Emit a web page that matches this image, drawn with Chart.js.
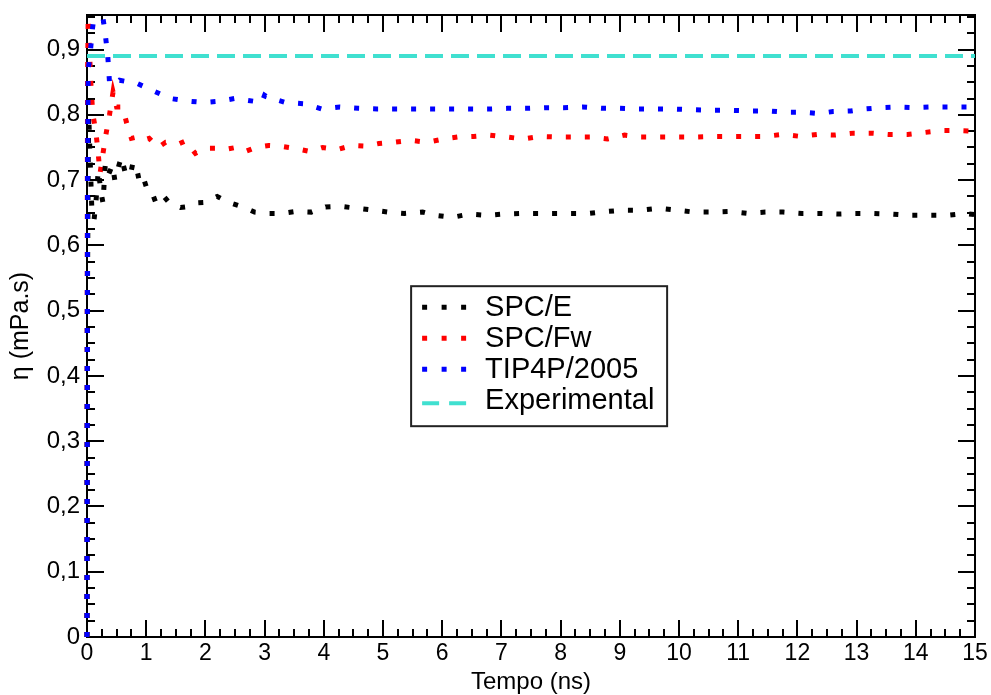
<!DOCTYPE html>
<html>
<head>
<meta charset="utf-8">
<script src="https://cdn.jsdelivr.net/npm/chart.js@4.4.1/dist/chart.umd.min.js"></script>
<style>
html,body{margin:0;padding:0;background:#fff;}
#wrap{width:991px;height:695px;position:relative;}
</style>
</head>
<body>
<div id="wrap"><canvas id="c" width="991" height="695"></canvas></div>
<script>
// ---- Data ----
const seriesLabels = ['SPC/E', 'SPC/Fw', 'TIP4P/2005', 'Experimental'];

const spceTime = [0,0.003,0.006,0.01,0.015,0.02,0.03,0.05,0.08,0.12,0.15,0.19,0.24,0.27,0.31,0.37,0.43,0.47,0.53,0.58,0.65,0.73,0.77,0.82,0.88,0.94,1.0,1.07,1.16,1.28,1.39,1.58,1.66,1.82,2.0,2.2,2.39,2.63,2.83,3.08,3.3,3.52,3.79,4.03,4.27,4.55,4.84,5.08,5.36,5.67,5.89,6.17,6.46,6.77,7.04,7.32,7.61,7.91,8.2,8.47,8.78,9.06,9.35,9.65,9.96,10.25,10.55,10.85,11.15,11.46,11.76,12.08,12.37,12.67,12.97,13.28,13.6,13.92,14.21,14.53,14.84,15];
const spceEta  = [0,0.30,0.47,0.56,0.64,0.72,0.80,0.74,0.66,0.64,0.665,0.715,0.68,0.665,0.726,0.71,0.723,0.70,0.72,0.735,0.71,0.707,0.724,0.726,0.70,0.707,0.69,0.688,0.666,0.677,0.665,0.658,0.659,0.665,0.666,0.675,0.666,0.659,0.651,0.649,0.649,0.652,0.651,0.659,0.660,0.657,0.654,0.651,0.649,0.651,0.646,0.643,0.648,0.646,0.648,0.649,0.649,0.649,0.649,0.649,0.652,0.654,0.654,0.657,0.654,0.651,0.651,0.652,0.649,0.651,0.651,0.649,0.649,0.648,0.649,0.649,0.648,0.646,0.646,0.646,0.649,0.647];

const spcfwTime = [0,0.003,0.006,0.01,0.02,0.04,0.07,0.10,0.14,0.18,0.22,0.26,0.32,0.38,0.44,0.50,0.60,0.68,0.75,0.85,0.95,1.05,1.2,1.33,1.45,1.56,1.66,1.83,2.0,2.17,2.34,2.51,2.68,2.85,3.07,3.27,3.49,3.76,3.98,4.23,4.47,4.7,4.93,5.19,5.46,5.75,6.02,6.26,6.53,6.8,7.1,7.37,7.66,7.94,8.22,8.5,8.79,9.08,9.35,9.67,9.96,10.24,10.57,10.84,11.14,11.45,11.75,12.05,12.34,12.64,12.95,13.25,13.54,13.86,14.15,14.45,14.74,15];
const spcfwEta  = [0,0.45,0.72,0.86,0.95,0.90,0.84,0.80,0.78,0.75,0.71,0.735,0.77,0.80,0.835,0.812,0.812,0.784,0.764,0.766,0.761,0.764,0.750,0.758,0.758,0.756,0.760,0.741,0.749,0.749,0.747,0.750,0.744,0.750,0.753,0.752,0.749,0.744,0.750,0.747,0.753,0.752,0.756,0.758,0.761,0.758,0.763,0.766,0.767,0.769,0.766,0.763,0.767,0.766,0.766,0.766,0.763,0.769,0.766,0.766,0.766,0.766,0.767,0.767,0.767,0.767,0.770,0.767,0.770,0.769,0.772,0.772,0.770,0.770,0.773,0.776,0.776,0.775];

const tip4pTime = [0,0.005,0.01,0.02,0.05,0.09,0.13,0.17,0.21,0.25,0.30,0.35,0.38,0.45,0.55,0.85,1.14,1.41,1.72,1.98,2.24,2.49,2.81,2.95,3.0,3.05,3.35,3.67,3.96,4.27,4.58,4.9,5.23,5.53,5.85,6.17,6.5,6.8,7.1,7.45,7.75,8.05,8.37,8.7,9.0,9.3,9.6,9.9,10.2,10.55,10.87,11.2,11.5,11.8,12.1,12.35,12.6,12.9,13.13,13.4,13.66,13.95,14.25,14.6,14.9,15];
const tip4pEta  = [0,0.45,0.72,0.87,0.89,0.93,0.96,0.98,0.98,0.96,0.93,0.891,0.85,0.845,0.853,0.848,0.836,0.825,0.821,0.819,0.821,0.825,0.821,0.818,0.830,0.827,0.819,0.817,0.809,0.812,0.810,0.809,0.809,0.809,0.809,0.809,0.809,0.809,0.810,0.810,0.811,0.811,0.812,0.810,0.810,0.809,0.809,0.809,0.808,0.807,0.807,0.806,0.806,0.804,0.804,0.802,0.805,0.806,0.809,0.811,0.812,0.811,0.812,0.812,0.812,0.812];

const expTime = [0, 15];
const expEta  = [0.89, 0.89];

const xTickValues = [0,1,2,3,4,5,6,7,8,9,10,11,12,13,14,15];
const yTickLabels = ['0','0,1','0,2','0,3','0,4','0,5','0,6','0,7','0,8','0,9'];

// ---- helpers ----
function pts(t, v){ return t.map((x,i)=>({x:x, y:v[i]})); }
const FONT = "'Liberation Sans', Arial, Helvetica, sans-serif";

const frameTicks = {
  id: 'frameTicks',
  beforeDatasetsDraw(chart){
    const {ctx, chartArea:a, scales:{x, y}} = chart;
    ctx.save();
    ctx.strokeStyle = '#000';
    ctx.lineWidth = 2;
    ctx.lineCap = 'butt';
    for (let v = 0; v <= 15.0001; v += 0.25) {
      const px = Math.round(x.getPixelForValue(v));
      const major = Math.abs(v - Math.round(v)) < 1e-6;
      const L = major ? 17 : 8;
      ctx.beginPath();
      ctx.moveTo(px, a.bottom); ctx.lineTo(px, a.bottom - L);
      ctx.moveTo(px, a.top); ctx.lineTo(px, a.top + L);
      ctx.stroke();
    }
    for (let k = 0; k <= 38; k++) {
      const v = k * 0.025;
      const py = Math.round(y.getPixelForValue(v));
      const L = (k % 4 === 0) ? 17 : 8;
      ctx.beginPath();
      ctx.moveTo(a.left, py); ctx.lineTo(a.left + L, py);
      ctx.moveTo(a.right, py); ctx.lineTo(a.right - L, py);
      ctx.stroke();
    }
    ctx.strokeRect(a.left, a.top, a.right - a.left, a.bottom - a.top);
    ctx.restore();
  }
};

const boxLegend = {
  id: 'boxLegend',
  afterDraw(chart){
    const {ctx, chartArea:a} = chart;
    const w = a.right - a.left, h = a.bottom - a.top;
    const bx = a.left + 0.365 * w, by = a.top + 0.436 * h;
    const bw = 256, bh = 140;
    ctx.save();
    ctx.fillStyle = '#fff';
    ctx.fillRect(bx, by, bw, bh);
    ctx.strokeStyle = '#222';
    ctx.lineWidth = 2;
    ctx.strokeRect(bx, by, bw, bh);
    ctx.font = '29px ' + FONT;
    ctx.textBaseline = 'middle';
    ctx.textAlign = 'left';
    ctx.fillStyle = '#000';
    chart.data.datasets.forEach((ds, i) => {
      const cy = by + 21 + i * 31;
      const sy = (i === 3) ? cy + 3 : cy;
      ctx.beginPath();
      ctx.strokeStyle = ds.borderColor;
      ctx.lineWidth = (i === 3) ? 4 : 5;
      ctx.setLineDash(i === 3 ? [17, 10] : [5, 14.5]);
      ctx.moveTo(bx + 11, sy); ctx.lineTo(bx + 55, sy);
      ctx.stroke();
      ctx.setLineDash([]);
      ctx.fillText(ds.label, bx + 74, cy + 1);
    });
    ctx.restore();
  }
};

const dotted = [5, 14];
new Chart(document.getElementById('c'), {
  type: 'scatter',
  data: {
    datasets: [
      { label: seriesLabels[0], data: pts(spceTime, spceEta), borderColor: '#000000', backgroundColor: '#000000' },
      { label: seriesLabels[1], data: pts(spcfwTime, spcfwEta), borderColor: '#ff0000', backgroundColor: '#ff0000' },
      { label: seriesLabels[2], data: pts(tip4pTime, tip4pEta), borderColor: '#0000ff', backgroundColor: '#0000ff' },
      { label: seriesLabels[3], data: pts(expTime, expEta), borderColor: '#40e0d0', backgroundColor: '#40e0d0', borderDash: [18, 8], borderWidth: 4 }
    ].map((d, i) => Object.assign({
      showLine: true, pointRadius: 0, pointHoverRadius: 0, borderWidth: 5,
      borderDash: dotted, borderCapStyle: 'butt', tension: 0,
      clip: { left: 4, top: 0, right: 0, bottom: 4 },
      order: [1, 2, 0, 3][i]
    }, d))
  },
  options: {
    responsive: false,
    animation: false,
    events: [],
    layout: { padding: { top: 15, right: 16, left: 0, bottom: 0 } },
    plugins: { legend: { display: false }, tooltip: { enabled: false } },
    scales: {
      x: {
        type: 'linear', min: 0, max: 15,
        grid: { display: false, drawTicks: false },
        border: { display: false },
        afterBuildTicks(s){ s.ticks = xTickValues.map(v => ({value: v})); },
        afterFit(s){ s.height = 58; s.paddingLeft = 0; s.paddingRight = 0; },
        ticks: { padding: 3, color: '#000', font: { family: FONT, size: 23 }, maxRotation: 0, autoSkip: false,
                 callback: v => String(v) },
        title: { display: true, text: 'Tempo (ns)', color: '#000', font: { family: FONT, size: 24 }, padding: { top: 0, bottom: -2 } }
      },
      y: {
        type: 'linear', min: 0, max: 0.953,
        grid: { display: false, drawTicks: false },
        border: { display: false },
        afterBuildTicks(s){ s.ticks = yTickLabels.map((l, i) => ({value: i / 10})); },
        afterFit(s){ s.width = 87; s.paddingTop = 0; s.paddingBottom = 0; },
        ticks: { padding: 7, color: '#000', font: { family: FONT, size: 24 }, autoSkip: false,
                 callback: (v) => yTickLabels[Math.round(v * 10)] },
        title: { display: true, text: 'η (mPa.s)', color: '#000', font: { family: FONT, size: 25 }, padding: { top: 6, bottom: 0 } }
      }
    }
  },
  plugins: [frameTicks, boxLegend]
});
</script>
</body>
</html>
